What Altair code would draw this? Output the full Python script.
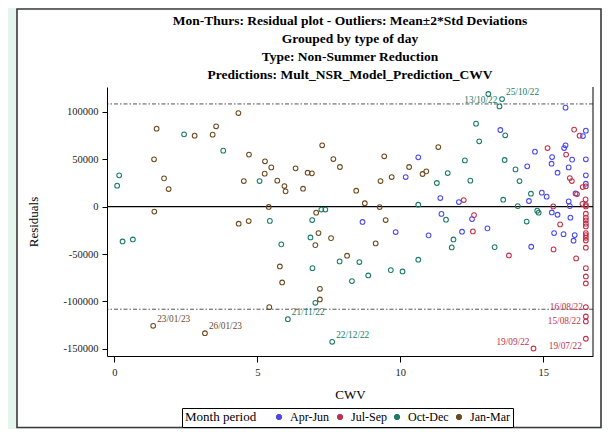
import altair as alt
import pandas as pd

# ---------------- data ----------------
periods = ["Apr-Jun", "Jul-Sep", "Oct-Dec", "Jan-Mar"]
period_colors = ["#4848F0", "#C4304A", "#1B7B68", "#6E4A1F"]

apr_cwv = [10.63, 10.19, 8.68, 9.84, 10.99, 15.78, 13.50, 16.39, 16.49, 14.71,
           15.31, 15.29, 15.78, 15.73, 16.01, 16.49, 14.44, 15.89, 15.50, 16.49,
           16.49, 11.40, 12.05, 14.95, 15.12, 14.50, 15.89, 15.93, 11.44, 12.51,
           15.30, 15.50, 15.95, 16.13, 12.16, 13.05, 14.58, 15.38, 15.71, 16.10,
           16.06]
apr_res = [52100, 31300, -16100, -26800, -30300, 104600, 81000, 74600, 80300, 58100,
           52400, 45400, 64800, 61900, 49700, 50000, 42600, 41500, 35900, 33100,
           24300, 9100, 4900, 14800, 10600, 6000, 5600, 600, -7600, -13100,
           -6100, -8500, -11600, 14000, -26400, -22900, -42300, -27900, -29000, -30000,
           -35900]

jul_cwv = [16.08, 16.27, 15.15, 15.80, 15.93, 16.00, 16.49, 16.38, 16.18, 16.48,
           16.37, 12.22, 15.35, 12.58, 15.59, 12.54, 13.80, 15.36, 16.15, 16.49,
           16.49, 16.49, 16.49, 16.49, 16.49, 16.49, 16.49, 16.49, 16.49, 16.49,
           16.49, 16.49, 16.49, 16.49, 16.49, 16.49, 16.49, 16.49, 14.66]
jul_res = [81400, 75000, 61900, 55000, 30200, 27100, 21500, 20700, 13300, 7700,
           3000, 7000, 300, -8900, -18700, -26100, -51500, -45100, -54600, 1800,
           300, -7400, -11600, -14500, -18000, -20800, -27900, -30000, -32800, -35700,
           -43300, -64900, -73700, -81100, -106100, -115900, -121200, -139500, -149800]

oct_cwv = [0.17, 0.10, 2.44, 3.81, 5.08, 0.29, 0.65, 5.44, 6.92, 7.24,
           7.38, 10.63, 5.84, 6.86, 6.93, 7.03, 6.07, 7.62, 7.88, 8.57,
           8.31, 8.88, 9.67, 10.08, 10.63, 13.08, 13.56, 13.47, 12.65, 12.76,
           13.67, 12.26, 13.65, 11.66, 11.28, 12.45, 14.03, 14.17, 14.57, 13.60,
           14.11, 14.79, 14.84, 11.60, 14.42, 11.86, 11.80, 13.30]
oct_res = [33100, 22200, 76400, 59200, 27100, -36700, -34600, -15000, -14100, -3000,
           -3000, 2100, -39800, -32500, -64900, -101500, -118800, -142700, -57800, -58500,
           -78600, -72600, -67000, -68400, -56000, 119000, 113700, 105900, 87700, 69000,
           75400, 48900, 49300, 35500, 25000, 27500, 39400, 27100, 13700, 7400,
           600, -4200, -6300, -13700, -15700, -34600, -43000, -42700]

jan_cwv = [1.48, 1.39, 1.74, 1.90, 1.40, 2.81, 3.44, 3.56, 4.34, 4.71,
           4.53, 5.27, 5.26, 5.40, 4.35, 4.70, 5.49, 5.70, 5.95, 5.99,
           6.34, 6.60, 6.76, 6.91, 7.27, 7.66, 7.89, 8.46, 8.76, 9.28,
           9.31, 9.44, 9.70, 10.31, 10.78, 10.91, 11.33, 7.06, 9.49, 7.14,
           7.03, 7.58, 5.79, 5.87, 7.19, 7.19, 5.42, 8.14, 9.14, 1.36,
           3.17]
jan_res = [82400, 50000, 29900, 18600, -5200, 75000, 76100, 84900, 98900, 55000,
           27100, 47900, 34900, -300, -18000, -15200, 41500, 27500, 21800, 16200,
           40500, 19000, 35900, 35200, 64800, 50300, 41900, 16900, 3700, -400,
           27100, 53200, 31300, 41900, 34500, 37300, 63000, -6300, -14100, -27900,
           -40600, -33200, -63100, -80000, -86700, -98000, -106100, -51800, -38800, -125800,
           -133600]

# outlier labels
lab_dates = ["13/10/22", "25/10/22", "23/01/23", "26/01/23", "21/11/22",
             "22/12/22", "19/09/22", "16/08/22", "15/08/22", "19/07/22"]
lab_cwv = [13.08, 13.56, 1.36, 3.17, 6.07, 7.62, 14.66, 16.49, 16.49, 16.49]
lab_res = [119000, 113700, -125800, -133600, -118800, -142700, -149800, -115900, -121200, -139500]
lab_period = ["Oct-Dec", "Oct-Dec", "Jan-Mar", "Jan-Mar", "Oct-Dec",
              "Oct-Dec", "Jul-Sep", "Jul-Sep", "Jul-Sep", "Jul-Sep"]

outlier_limits = [108500, -108300]
zero_line = [0]

x_ticks = [0, 5, 10, 15]
y_ticks = [-150000, -100000, -50000, 0, 50000, 100000]

title_lines = [
    "Mon-Thurs: Residual plot - Outliers: Mean\u00b12*Std Deviations",
    "Grouped by type of day",
    "Type: Non-Summer Reduction",
    "Predictions: Mult_NSR_Model_Prediction_CWV",
]

# ---------------- tables ----------------
groups = [(apr_cwv, apr_res, "Apr-Jun"), (jul_cwv, jul_res, "Jul-Sep"),
          (oct_cwv, oct_res, "Oct-Dec"), (jan_cwv, jan_res, "Jan-Mar")]
frames = []
for xs, ys, p in groups:
    assert len(xs) == len(ys), p
    frames.append(pd.DataFrame({"cwv": xs, "res": ys, "period": p}))
df = pd.concat(frames, ignore_index=True)

labels = pd.DataFrame({"date": lab_dates, "cwv": lab_cwv, "res": lab_res, "period": lab_period})

FONT = "Liberation Serif"
W, H = 486, 269
X_SCALE = alt.Scale(domain=[-0.255, 16.74], nice=False, zero=False)
Y_SCALE = alt.Scale(domain=[-157700, 126400], nice=False, zero=False)
C_SCALE = alt.Scale(domain=periods, range=period_colors)


def xenc():
    return alt.X("cwv:Q", scale=X_SCALE, title="CWV",
                 axis=alt.Axis(values=x_ticks, format="d", tickSize=6, labelPadding=5,
                               titlePadding=11, zindex=2))


def yenc():
    return alt.Y("res:Q", scale=Y_SCALE, title="Residuals",
                 axis=alt.Axis(values=y_ticks, labelExpr="toString(datum.value)",
                               tickSize=5, labelPadding=4, titlePadding=23, zindex=2))


one = pd.DataFrame({"k": [0]})

panel = alt.Chart(one).mark_rect(fill="white", stroke="#3a3a3a", strokeWidth=1.6).encode(
    x=alt.value(-90), x2=alt.value(494), y=alt.value(-78), y2=alt.value(340.5)
)

right_edge = alt.Chart(one).mark_rule(color="black", strokeWidth=1).encode(
    x=alt.value(W), y=alt.value(0), y2=alt.value(H)
)

out_rules = alt.Chart(pd.DataFrame({"res": outlier_limits})).mark_rule(
    color="#555555", strokeWidth=1, strokeDash=[4, 2, 1.5, 2]
).encode(y=yenc())

zero_rule = alt.Chart(pd.DataFrame({"res": zero_line})).mark_rule(
    color="black", strokeWidth=1.2
).encode(y=yenc())

points = alt.Chart(df).mark_point(filled=False, size=22, strokeWidth=1.1, opacity=1).encode(
    x=xenc(),
    y=yenc(),
    color=alt.Color("period:N", scale=C_SCALE, sort=periods,
                    legend=alt.Legend(
                        title="Month period", orient="none", legendX=75, legendY=321,
                        direction="horizontal", titleOrient="left",
                        strokeColor="black", fillColor="white", padding=3,
                        titleFont=FONT, titleFontSize=13, titleFontWeight="normal",
                        titleColor="black", titlePadding=16,
                        labelFont=FONT, labelFontSize=12, labelColor="black",
                        labelOffset=5, columnPadding=4,
                        symbolType="circle", symbolSize=28, symbolStrokeWidth=1,
                        symbolFillColor="white")),
)


def label_layer(dates, align, dx, dy):
    return alt.Chart(labels).transform_filter(
        alt.FieldOneOfPredicate(field="date", oneOf=dates)
    ).mark_text(font=FONT, fontSize=9.3, align=align, dx=dx, dy=dy, baseline="middle").encode(
        x=xenc(),
        y=yenc(),
        text="date:N",
        color=alt.Color("period:N", scale=C_SCALE, legend=None),
    )


lab_ne = label_layer(["25/10/22", "23/01/23", "26/01/23", "21/11/22", "22/12/22"], "left", 4, -7)
lab_13 = label_layer(["13/10/22"], "right", 9, 6)
lab_nw = label_layer(["19/09/22"], "right", -4, -7)
lab_16 = label_layer(["16/08/22"], "right", -3, -9)
lab_15 = label_layer(["15/08/22"], "right", -5, 0)
lab_sw = label_layer(["19/07/22"], "right", -4, 7)

chart = alt.layer(
    panel, out_rules, zero_rule, points, lab_ne, lab_13, lab_nw, lab_16, lab_15, lab_sw, right_edge
).properties(
    width=W, height=H,
    title=alt.TitleParams(text=title_lines, font=FONT, fontSize=13.5, fontWeight="bold",
                          lineHeight=18, anchor="middle", frame="group", offset=-73,
                          color="black"),
    padding={"left": 99, "top": 79, "right": 9, "bottom": 73},
    autosize=alt.AutoSizeParams(type="none"),
    background="#E5F4ED",
).configure_view(stroke=None).configure_axis(
    grid=False, domainColor="black", domainWidth=1, tickColor="black",
    labelFont=FONT, labelFontSize=10.5, labelColor="#222222",
    titleFont=FONT, titleFontSize=13, titleFontWeight="normal", titleColor="black",
)

chart.save("out.html", embed_options={"renderer": "svg", "actions": False})
